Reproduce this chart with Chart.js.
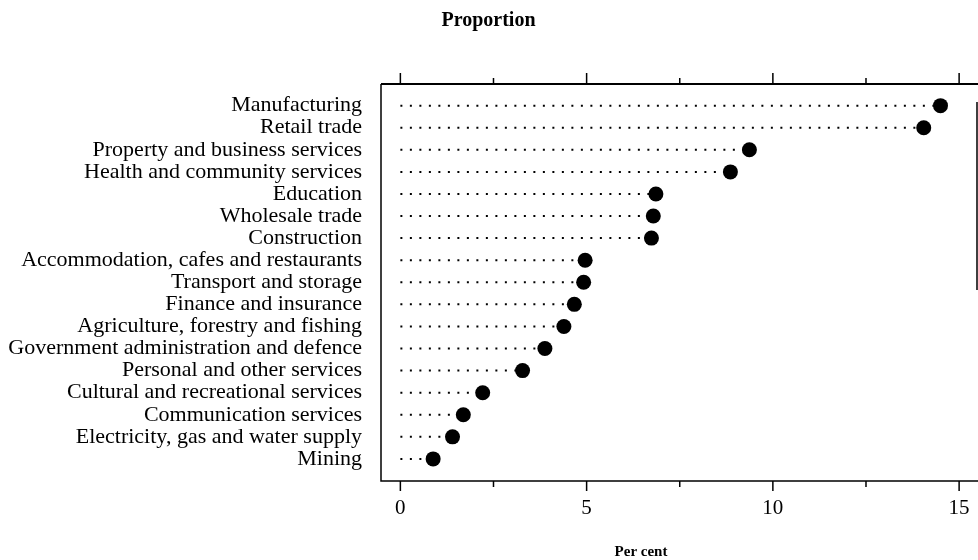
<!DOCTYPE html>
<html>
<head>
<meta charset="utf-8">
<script src="https://cdn.jsdelivr.net/npm/chart.js@4.4.1/dist/chart.umd.min.js"></script>
<style>
  html, body { margin: 0; padding: 0; background: #fff; }
</style>
</head>
<body>
<canvas id="myChart" width="978" height="560"></canvas>
<script>
// industries, top to bottom
const industries = [
  'Manufacturing',
  'Retail trade',
  'Property and business services',
  'Health and community services',
  'Education',
  'Wholesale trade',
  'Construction',
  'Accommodation, cafes and restaurants',
  'Transport and storage',
  'Finance and insurance',
  'Agriculture, forestry and fishing',
  'Government administration and defence',
  'Personal and other services',
  'Cultural and recreational services',
  'Communication services',
  'Electricity, gas and water supply',
  'Mining'
];
const perCent = [14.5, 14.05, 9.37, 8.86, 6.86, 6.79, 6.74, 4.96, 4.92, 4.67, 4.39, 3.88, 3.28, 2.21, 1.69, 1.4, 0.88];
const xTickLabels = [0, 5, 10, 15];
const xMinorTicks = [2.5, 7.5, 12.5];

const serif = 'Liberation Serif';
Chart.defaults.color = '#000';
Chart.defaults.font.family = serif;

// leader lines, one per industry
const leaders = industries.map((name, i) => ({
  label: name,
  data: [{x: 0, y: i}, {x: perCent[i], y: i}],
  showLine: true,
  borderColor: '#000',
  borderWidth: 2,
  borderDash: [2, 7.5],
  pointRadius: 0,
  order: 1
}));

const dots = {
  label: 'Proportion',
  data: industries.map((name, i) => ({x: perCent[i], y: i})),
  backgroundColor: '#000',
  borderWidth: 0,
  pointRadius: 7.5,
  order: 0
};

// frame, tick marks and the axis caption
const framePlugin = {
  id: 'frame',
  afterDraw(chart) {
    const ctx = chart.ctx;
    const a = chart.chartArea;
    const xs = chart.scales.x;
    ctx.save();
    ctx.strokeStyle = '#000';
    ctx.lineWidth = 2;
    ctx.beginPath();
    ctx.moveTo(a.left, a.top); ctx.lineTo(chart.width, a.top);
    ctx.stroke();
    ctx.lineWidth = 1.5;
    ctx.beginPath();
    ctx.moveTo(a.left, a.top); ctx.lineTo(a.left, a.bottom);
    ctx.lineTo(chart.width, a.bottom);
    ctx.moveTo(a.right, a.top + 18); ctx.lineTo(a.right, a.top + 206);
    ctx.stroke();

    ctx.beginPath();
    xTickLabels.forEach(v => {
      const px = xs.getPixelForValue(v);
      ctx.moveTo(px, a.top); ctx.lineTo(px, a.top - 11);
      ctx.moveTo(px, a.bottom); ctx.lineTo(px, a.bottom + 10);
    });
    xMinorTicks.forEach(v => {
      const px = xs.getPixelForValue(v);
      ctx.moveTo(px, a.top); ctx.lineTo(px, a.top - 6);
      ctx.moveTo(px, a.bottom); ctx.lineTo(px, a.bottom + 6);
    });
    ctx.stroke();

    ctx.fillStyle = '#000';
    ctx.font = 'bold 15px "' + serif + '"';
    ctx.textAlign = 'center';
    ctx.textBaseline = 'middle';
    ctx.fillText('Per cent', 641, 552);
    ctx.restore();
  }
};

const ctx = document.getElementById('myChart').getContext('2d');
const myChart = new Chart(ctx, {
  type: 'scatter',
  data: { datasets: [dots].concat(leaders) },
  options: {
    responsive: false,
    animation: false,
    devicePixelRatio: 1,
    layout: { autoPadding: false, padding: { left: 0, right: 1, top: 0, bottom: 0 } },
    plugins: {
      legend: { display: false },
      tooltip: { enabled: false },
      title: {
        display: true,
        text: 'Proportion',
        font: { family: serif, size: 20, weight: 'bold' },
        padding: { top: 9, bottom: 0 }
      }
    },
    scales: {
      x: {
        type: 'linear',
        position: 'bottom',
        min: -0.52,
        max: 15.48,
        afterBuildTicks: s => { s.ticks = xTickLabels.map(v => ({value: v})); },
        ticks: { font: { size: 21 }, padding: 15, maxRotation: 0, autoSkip: false },
        grid: { display: false, drawTicks: false },
        border: { display: false },
        afterFit: s => { s.height = 79; s.paddingLeft = 0; s.paddingRight = 0; }
      },
      xTop: {
        type: 'linear',
        position: 'top',
        min: -0.52,
        max: 15.48,
        ticks: { display: false },
        grid: { display: false, drawTicks: false },
        border: { display: false },
        afterFit: s => { s.height = 84 - 33; s.paddingLeft = 0; s.paddingRight = 0; }
      },
      y: {
        type: 'linear',
        reverse: true,
        min: -0.98,
        max: 17.0,
        afterBuildTicks: s => { s.ticks = industries.map((n, i) => ({value: i})); },
        ticks: {
          font: { size: 22 },
          padding: 19,
          autoSkip: false,
          callback: v => industries[v]
        },
        grid: { display: false, drawTicks: false },
        border: { display: false },
        afterFit: s => { s.width = 381; s.paddingTop = 0; s.paddingBottom = 0; }
      }
    }
  },
  plugins: [framePlugin]
});
</script>
</body>
</html>
